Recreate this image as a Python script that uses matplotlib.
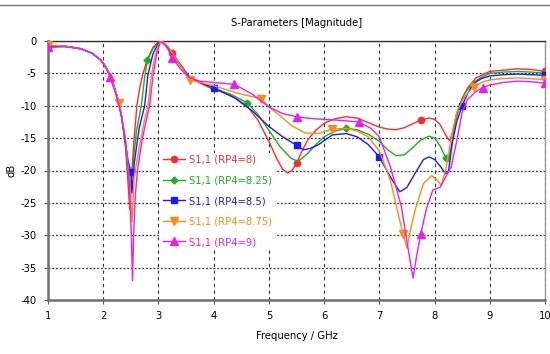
import numpy as np
import matplotlib.pyplot as plt
from matplotlib.lines import Line2D

# 周波数 [GHz] と S11 [dB] (RP4 ごと)
f_8 = [1.0, 1.3, 1.6, 1.8, 1.95, 2.05, 2.15, 2.25, 2.33, 2.4, 2.45, 2.48, 2.52, 2.56, 2.61, 2.66,
       2.72, 2.8, 2.9, 3.0, 3.05, 3.15, 3.25, 3.4, 3.55, 3.75, 4.0, 4.3, 4.6, 4.8, 5.0, 5.15, 5.25,
       5.34, 5.42, 5.5, 5.6, 5.7, 5.85, 6.0, 6.2, 6.4, 6.6, 6.8, 7.0, 7.15, 7.3, 7.45, 7.6, 7.75,
       7.9, 8.0, 8.1, 8.2, 8.27, 8.33, 8.4, 8.5, 8.6, 8.75, 9.0, 9.25, 9.5, 9.75, 10.0]
s_8 = [-0.8, -0.8, -1.2, -1.9, -2.9, -4.0, -5.8, -8.5, -11.5, -16, -22, -26, -20, -15, -10, -7.3,
       -5, -2.8, -1.0, -0.1, -0.1, -0.8, -1.8, -3.6, -5.4, -6.5, -7.5, -8.3, -10.0, -12.2, -15.5,
       -18.3, -19.8, -20.4, -20.0, -18.9, -17.0, -15.3, -13.8, -12.7, -12.0, -11.7, -11.9, -12.6,
       -13.3, -13.6, -13.7, -13.4, -12.8, -12.2, -11.9, -12.1, -12.9, -14.5, -15.4, -14.0, -11.3,
       -8.9, -7.2, -5.7, -4.7, -4.5, -4.3, -4.4, -4.7]

f_825 = [1.0, 1.3, 1.6, 1.8, 1.95, 2.05, 2.15, 2.25, 2.33, 2.4, 2.45, 2.49, 2.54, 2.6, 2.69, 2.75,
         2.8, 2.9, 3.0, 3.05, 3.15, 3.25, 3.4, 3.55, 3.75, 4.0, 4.3, 4.6, 4.8, 5.0, 5.2, 5.4, 5.53,
         5.7, 5.85, 6.0, 6.2, 6.4, 6.6, 6.8, 7.0, 7.15, 7.3, 7.45, 7.6, 7.75, 7.9, 8.0, 8.1, 8.2,
         8.25, 8.3, 8.37, 8.45, 8.55, 8.7, 8.85, 9.0, 9.25, 9.5, 9.75, 10.0]
s_825 = [-0.8, -0.8, -1.2, -1.9, -2.9, -4.0, -5.8, -8.5, -11.5, -16, -20, -23, -19, -14, -10, -5.6,
         -3.0, -1.2, -0.2, -0.1, -0.7, -2.0, -3.7, -5.5, -6.4, -7.3, -8.2, -9.5, -11.3, -13.8,
         -16.3, -18.1, -18.6, -17.4, -16.0, -14.8, -13.9, -13.5, -13.7, -14.4, -15.5, -16.8,
         -17.7, -17.6, -16.5, -15.3, -14.7, -15.0, -16.2, -18.0, -18.6, -16.5, -12.8, -10.0, -8.0,
         -6.4, -5.6, -5.0, -4.8, -4.7, -4.8, -5.0]

f_85 = [1.0, 1.3, 1.6, 1.8, 1.95, 2.05, 2.15, 2.25, 2.33, 2.4, 2.45, 2.5, 2.52, 2.56, 2.65, 2.75,
        2.81, 2.9, 3.0, 3.05, 3.15, 3.25, 3.4, 3.55, 3.75, 4.0, 4.4, 4.7, 5.0, 5.25, 5.5, 5.62,
        5.75, 5.9, 6.15, 6.4, 6.6, 6.8, 7.0, 7.2, 7.37, 7.5, 7.65, 7.8, 7.9, 8.0, 8.1, 8.2, 8.25,
        8.32, 8.4, 8.5, 8.6, 8.7, 8.85, 9.0, 9.25, 9.5, 9.75, 10.0]
s_85 = [-0.8, -0.8, -1.2, -1.9, -2.9, -4.0, -5.8, -8.5, -11.5, -15.5, -18.5, -20.2, -23.5, -19,
        -13.5, -10, -5.2, -2.0, -0.3, -0.1, -0.7, -2.2, -3.8, -5.5, -6.4, -7.2, -8.9, -10.8,
        -13.2, -14.8, -16.1, -16.8, -16.6, -16.0, -14.5, -14.3, -14.8, -16.0, -17.9, -21.0,
        -23.3, -22.6, -20.4, -18.3, -17.9, -18.3, -19.3, -20.5, -20.3, -15.8, -12.5, -10.0,
        -8.1, -6.6, -5.8, -5.4, -5.2, -5.1, -5.2, -5.3]

f_875 = [1.0, 1.3, 1.6, 1.8, 1.95, 2.05, 2.15, 2.29, 2.4, 2.48, 2.52, 2.56, 2.66, 2.74, 2.81, 2.86,
         2.92, 2.98, 3.03, 3.08, 3.18, 3.3, 3.45, 3.57, 3.75, 4.0, 4.4, 4.86, 5.0, 5.2, 5.4, 5.65,
         5.9, 6.14, 6.4, 6.6, 6.8, 7.0, 7.2, 7.35, 7.43, 7.5, 7.57, 7.65, 7.8, 7.95, 8.05, 8.12,
         8.2, 8.3, 8.4, 8.55, 8.71, 8.85, 9.0, 9.25, 9.5, 9.75, 10.0]
s_875 = [-0.6, -0.8, -1.2, -1.9, -2.9, -4.0, -5.8, -9.5, -15, -22, -28, -21, -16, -12.5, -10, -6.0,
         -3.0, -1.0, -0.1, -0.1, -0.9, -2.6, -4.4, -6.0, -6.4, -6.9, -8.0, -8.9, -10.2, -11.5,
         -13.0, -14.2, -14.3, -13.6, -13.5, -13.9, -14.8, -17.0, -21.5, -27.0, -29.8, -32.0,
         -29.0, -26.0, -22.0, -20.8, -21.5, -22.3, -20.0, -15.0, -11.0, -8.5, -7.1, -6.4, -6.0,
         -5.8, -5.7, -5.8, -6.0]

f_9 = [1.0, 1.3, 1.6, 1.8, 1.95, 2.05, 2.125, 2.2, 2.3, 2.4, 2.47, 2.51, 2.53, 2.55, 2.58, 2.62,
       2.7, 2.78, 2.84, 2.9, 2.96, 3.03, 3.1, 3.18, 3.25, 3.4, 3.55, 3.75, 4.0, 4.375, 4.7, 5.0,
       5.25, 5.5, 5.8, 6.2, 6.625, 6.85, 7.0, 7.2, 7.4, 7.52, 7.61, 7.68, 7.75, 7.85, 7.97, 8.1,
       8.2, 8.3, 8.4, 8.5, 8.6, 8.75, 8.875, 9.0, 9.25, 9.5, 9.75, 10.0]
s_9 = [-1.0, -0.9, -1.2, -1.9, -2.9, -4.2, -5.6, -7.5, -10.3, -15, -22, -30, -37, -30, -24, -20,
       -15.5, -12.2, -10, -5.5, -2.3, -0.2, -0.4, -1.4, -2.6, -4.3, -5.6, -6.2, -6.4, -6.7, -8.2,
       -10.2, -11.2, -11.7, -12.0, -12.2, -12.5, -13.5, -14.8, -19.4, -25.6, -32.0, -36.6, -33.0,
       -29.8, -26.0, -23.0, -22.6, -21.0, -19.5, -15.5, -11.0, -9.0, -7.8, -7.2, -6.8, -6.4,
       -6.2, -6.3, -6.5]

# マーカーを置く周波数
mk_8 = [1.0, 3.25, 5.5, 7.75, 10.0]
mk_825 = [1.0, 2.8, 4.6, 6.4, 8.2, 10.0]
mk_85 = [1.0, 2.5, 4.0, 5.5, 7.0, 8.5, 10.0]
mk_875 = [1.0, 2.29, 3.57, 4.86, 6.14, 7.43, 8.71, 10.0]
mk_9 = [1.0, 2.125, 3.25, 4.375, 5.5, 6.625, 7.75, 8.875, 10.0]

labels = ['S1,1 (RP4=8)', 'S1,1 (RP4=8.25)', 'S1,1 (RP4=8.5)', 'S1,1 (RP4=8.75)', 'S1,1 (RP4=9)']
x_ticks = [1, 2, 3, 4, 5, 6, 7, 8, 9, 10]
y_ticks = [0, -5, -10, -15, -20, -25, -30, -35, -40]

series = [
    (f_8, s_8, mk_8, '#ff2a2a', 'o', 4.5),
    (f_825, s_825, mk_825, '#1fae1f', 'D', 3.5),
    (f_85, s_85, mk_85, '#1a1aff', 's', 5),
    (f_875, s_875, mk_875, '#ff8a14', 'v', 5.5),
    (f_9, s_9, mk_9, '#ea1fea', '^', 5.5),
]

plt.rcParams['font.family'] = ['DejaVu Sans']
plt.rcParams['font.stretch'] = 'condensed'
plt.rcParams['axes.unicode_minus'] = False

fig = plt.figure(figsize=(5.5, 3.54), dpi=100)
ax = fig.add_axes([48 / 550, 1 - 300 / 354, 497 / 550, 259 / 354])

for (f, s, mk, c, m, ms), lab in zip(series, labels):
    f = np.array(f)
    idx = [int(np.argmin(np.abs(f - v))) for v in mk]
    ax.plot(f, s, color=c, lw=1.0, marker=m, ms=ms, markevery=idx,
            markeredgecolor=c, markerfacecolor=c, label=lab, zorder=3)

ax.set_xlim(1, 10)
ax.set_ylim(-40, 0)
ax.set_xticks(x_ticks)
ax.set_yticks(y_ticks)
ax.set_xticklabels([str(t) for t in x_ticks], fontsize=8)
ax.set_yticklabels([str(t) for t in y_ticks], fontsize=8)

# 格子状の線 (縦: 破線, 横: 点線)
ax.xaxis.grid(True, color='#333333', linestyle=(0, (3, 3)), linewidth=0.8)
ax.yaxis.grid(True, color='#333333', linestyle=(0, (1.5, 1.5)), linewidth=0.9)
ax.set_axisbelow(True)
ax.tick_params(length=3, color='#555555', pad=5)

for side in ['left', 'bottom']:
    ax.spines[side].set_color('#707070')
    ax.spines[side].set_linewidth(1.8)
ax.spines['top'].set_color('#333333')
ax.spines['top'].set_linewidth(1.0)
ax.spines['right'].set_color('#9a9a9a')
ax.spines['right'].set_linewidth(1.0)

ax.set_title('S-Parameters [Magnitude]', fontsize=8, pad=11)
ax.set_xlabel('Frequency / GHz', fontsize=8, labelpad=7)
ax.set_ylabel('dB', fontsize=8, labelpad=3)

# 凡例: 背景は白 (格子を隠す) だが曲線はその上に描く
leg = ax.legend(loc='upper left', bbox_to_anchor=(0.215, 0.59), frameon=True,
                facecolor='white', edgecolor='none', framealpha=1, fontsize=8,
                labelcolor='linecolor', handlelength=2.0, handletextpad=0.4,
                labelspacing=0.95, borderpad=0.2)
leg.set_zorder(2.5)

# 上端の区切り線
fig.add_artist(Line2D([0, 1], [1 - 5 / 354, 1 - 5 / 354], color='#777777', lw=1.0))

fig.savefig('out.png', dpi=100)
